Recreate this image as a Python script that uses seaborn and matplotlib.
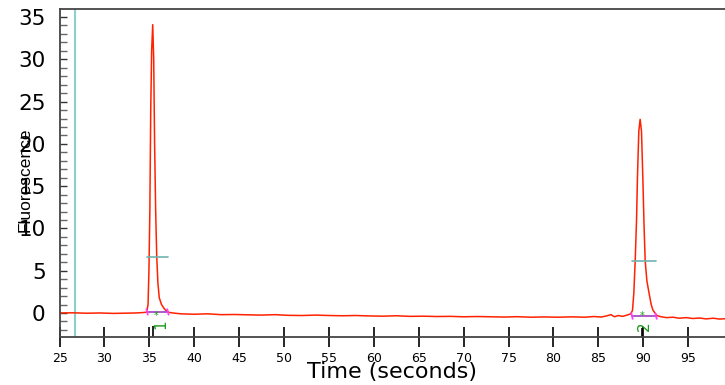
import numpy as np
import pandas as pd
import seaborn as sns
import matplotlib.pyplot as plt
from matplotlib.ticker import MultipleLocator

# trace (time in s, fluorescence)
time = [25.0, 26.5, 28.0, 29.5, 31.0, 32.5, 33.5, 34.3, 34.7,
        34.85, 34.95, 35.05, 35.15, 35.25, 35.37, 35.48, 35.58, 35.70, 35.82,
        35.95, 36.10, 36.35, 36.66, 37.05,
        37.6, 38.5, 40.0, 41.5, 43.0, 44.5, 46.0, 47.5, 49.0, 50.5, 52.0,
        53.5, 55.0, 56.5, 58.0, 59.5, 61.0, 62.5, 64.0, 65.5, 67.0, 68.5,
        70.0, 71.5, 73.0, 74.5, 76.0, 77.5, 79.0, 80.5, 82.0, 83.5, 84.5,
        85.3, 85.9, 86.4, 86.8, 87.2, 87.7, 88.2,
        88.6, 88.8, 88.95, 89.1, 89.25, 89.35, 89.5, 89.65, 89.8, 89.95,
        90.08, 90.21, 90.4, 90.6, 90.88, 91.07, 91.3, 91.5,
        92.0, 92.6, 93.3, 94.0, 94.8, 95.5, 96.3, 97.0, 97.8, 98.5, 99.1]
signal = [0.0, 0.02, -0.03, 0.0, -0.05, -0.02, 0.0, 0.05, 0.1,
          1.0, 5.0, 12.0, 24.0, 31.0, 34.1, 30.0, 20.0, 12.0, 6.6,
          3.5, 1.8, 1.0, 0.5, 0.1,
          0.0, -0.1, -0.15, -0.1, -0.2, -0.18, -0.22, -0.25, -0.2, -0.28, -0.3,
          -0.25, -0.3, -0.33, -0.3, -0.35, -0.38, -0.33, -0.4, -0.38, -0.42, -0.4,
          -0.45, -0.42, -0.45, -0.48, -0.44, -0.5, -0.47, -0.5, -0.46, -0.5, -0.42,
          -0.48, -0.35, -0.2, -0.45, -0.3, -0.4, -0.25,
          -0.1, 0.3, 2.4, 6.2, 11.0, 16.0, 21.5, 22.9, 21.5, 16.0,
          10.5, 6.2, 3.8, 2.6, 1.0, 0.35, 0.0, -0.3,
          -0.45, -0.55, -0.5, -0.62, -0.55, -0.65, -0.6, -0.7, -0.62, -0.72, -0.68]

# integration marks per peak
peak_labels = ['1', '2']
peak_rt = [35.4, 89.9]
peak_start = [34.77, 88.77]
peak_end = [37.04, 91.4]
peak_base = [0.1, -0.4]
width_level = [6.6, 6.1]
star_x = [35.7, 89.9]
star_y = [-0.3, -0.3]
label_x = [36.25, 90.1]
label_y = [-1.35, -1.55]
marker_top = [-1.5, -1.8]
injection_time = 26.7

df = pd.DataFrame({'time': time, 'signal': signal})

sns.set_style('white')
plt.rcParams['font.family'] = ['DejaVu Sans']

fig = plt.figure(figsize=(7.25, 3.85), dpi=100)
ax = fig.add_axes([0.0822, 0.1247, 0.9178, 0.8519])

ax.axvline(injection_time, color='#8ccfcf', lw=1.5)
sns.lineplot(data=df, x='time', y='signal', ax=ax, color='#ff2200', lw=1.1, estimator=None)

for i in range(len(peak_labels)):
    ax.plot([peak_start[i], peak_end[i]], [width_level[i], width_level[i]], color='#6fb3b3', lw=1.2)
    ax.plot([peak_start[i], peak_end[i]], [peak_base[i], peak_base[i]], color='#a040c0', lw=1.2)
    ax.plot([peak_start[i] - 0.1, peak_start[i] + 0.05], [peak_base[i] + 0.35, peak_base[i] - 0.3], color='#ff40ff', lw=1.3)
    ax.plot([peak_end[i] - 0.05, peak_end[i] + 0.1], [peak_base[i] + 0.35, peak_base[i] - 0.3], color='#ff40ff', lw=1.3)
    ax.text(star_x[i], star_y[i], '*', color='#1a9a1a', fontsize=7, ha='center', va='center')
    ax.text(label_x[i], label_y[i], peak_labels[i], color='#1a9a1a', fontsize=11, rotation=90, ha='center', va='center')
    ax.vlines(peak_rt[i], -2.84, marker_top[i], color='black', lw=1.2)

ax.set_xlim(25, 99.1)
ax.set_ylim(-2.84, 35.95)
ax.xaxis.set_major_locator(MultipleLocator(5))
ax.yaxis.set_major_locator(MultipleLocator(5))
ax.yaxis.set_minor_locator(MultipleLocator(1))

ax.tick_params(axis='x', which='major', direction='inout', length=14, width=1.2,
               labelsize=9, pad=4, color='black', labelcolor='black', bottom=True)
ax.tick_params(axis='y', which='major', direction='in', length=5, width=1, labelsize=15.5,
               pad=10, color='#333333', labelcolor='black', left=True)
ax.tick_params(axis='y', which='minor', direction='in', length=5, width=1, color='#666666', left=True)

for s in ['left', 'top', 'bottom']:
    ax.spines[s].set_color('#444444')
    ax.spines[s].set_linewidth(1.3)
ax.spines['right'].set_visible(False)

ax.set_xlabel('Time (seconds)', fontsize=16, labelpad=-2, color='black')
ax.set_ylabel('Fluorescence', fontsize=12.5, family=['Liberation Sans', 'DejaVu Sans'], color='black')
ax.yaxis.set_label_coords(-0.04, 0.48)

fig.savefig('out.png', dpi=100)
